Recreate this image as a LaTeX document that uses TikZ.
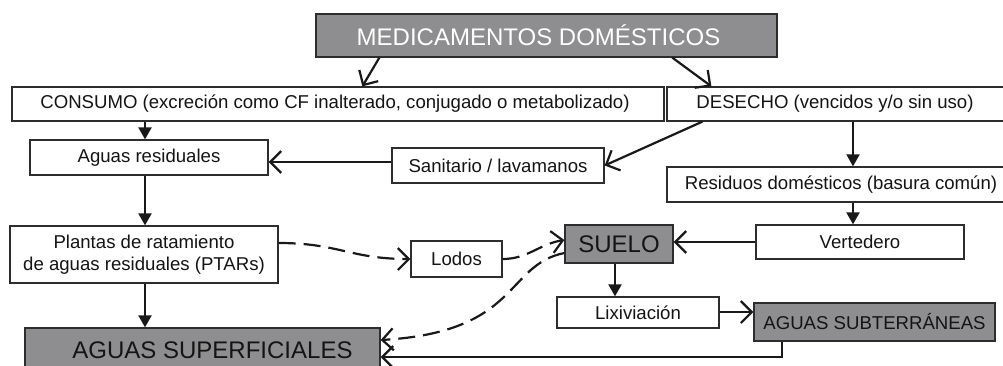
\documentclass[tikz,border=0pt]{standalone}
\usepackage{fontspec}
\setmainfont{Liberation Sans}
\usetikzlibrary{arrows.meta,calc}
\definecolor{boxgray}{RGB}{142,142,144}
\definecolor{edgec}{RGB}{45,45,45}
\definecolor{txt}{RGB}{20,20,20}
\begin{document}
\begin{tikzpicture}[x=1pt,y=-1pt,
  wbox/.style={draw=edgec, line width=1.3pt, fill=white, text=txt, inner sep=0pt,
    font=\fontsize{18.6}{22.5}\selectfont},
  gbox/.style={wbox, fill=boxgray},
  bigtext/.style={font=\fontsize{24}{28}\selectfont},
  oarrow/.style={line width=2.2pt, draw=black!90, -{Straight Barb[length=11pt,width=22pt]}},
  farrow/.style={line width=2.2pt, draw=black!90, -{Triangle[length=12pt,width=13pt]}},
  darrow/.style={oarrow, dash pattern=on 17pt off 8pt}]
\useasboundingbox (0,0) rectangle (1003,365);
\fill[white] (0,0) rectangle (1003,365);
\clip (0,0) rectangle (1003,365);

% helper coordinates
\coordinate (x145) at (145,0);
\coordinate (x853) at (853,0);
\coordinate (x615) at (615,0);
\coordinate (x782) at (782,0);
\coordinate (y162) at (0,162);
\coordinate (y243) at (0,243);
\coordinate (y240) at (0,240);
\coordinate (y253) at (0,253);
\coordinate (y312) at (0,312);
\coordinate (y340) at (0,340);
\coordinate (y357) at (0,357);

% nodes
\node[gbox, bigtext, text=white, minimum width=461pt, minimum height=43pt] (med) at (546.5,35.5) {MEDICAMENTOS DOMÉSTICOS\hspace*{16pt}};
\node[wbox, minimum width=652pt, minimum height=34pt] (cons) at (338,104) {CONSUMO (excreción como CF inalterado, conjugado o metabolizado)\hspace*{6pt}};
\node[wbox, minimum width=338pt, minimum height=34pt] (des) at (836,104) {DESECHO (vencidos y/o sin uso)\hspace*{2pt}};
\node[wbox, minimum width=238pt, minimum height=35pt] (ares) at (149,157.5) {Aguas residuales};
\node[wbox, minimum width=212pt, minimum height=35pt] (san) at (498,165.5) {Sanitario / lavamanos};
\node[wbox, minimum width=338pt, minimum height=35pt] (res) at (836,184.5) {\hspace*{10pt}Residuos domésticos (basura común)};
\node[wbox, minimum width=208pt, minimum height=34pt] (vert) at (860,242) {Vertedero};
\node[gbox, bigtext, minimum width=108pt, minimum height=38pt] (suelo) at (619,244) {SUELO};
\node[wbox, minimum width=268pt, minimum height=57pt, align=center] (plan) at (144,254.5) {Plantas de ratamiento\\de aguas residuales (PTARs)};
\node[wbox, minimum width=91pt, minimum height=36pt] (lodos) at (456.5,259) {Lodos};
\node[wbox, minimum width=162pt, minimum height=31pt] (lix) at (638,312.5) {Lixiviación};
\node[gbox, minimum width=241pt, minimum height=38pt] (sub) at (874.5,322) {AGUAS SUBTERRÁNEAS};
\node[gbox, bigtext, minimum width=355pt, minimum height=44pt] (sup) at (202.5,350) {\hspace*{20pt}AGUAS SUPERFICIALES};

% connectors
\draw[oarrow] ($(med.south west)+(64,0)$) -- ($(cons.north west)+(351,0)$);
\draw[oarrow] ($(med.south west)+(357,0)$) -- ($(des.north west)+(45,0)$);
\draw[farrow] (cons.south -| x145) -- (ares.north -| x145);
\draw[oarrow] (san.west |- y162) -- (ares.east |- y162);
\draw[oarrow] ($(des.south west)+(36,0)$) -- (san.east);
\draw[farrow] (des.south -| x853) -- (res.north -| x853);
\draw[farrow] (res.south -| x853) -- (vert.north -| x853);
\draw[oarrow] (vert.west) -- (suelo.east |- vert.west);
\draw[farrow] (ares.south -| x145) -- (plan.north -| x145);
\draw[farrow] (plan.south -| x145) -- (sup.north -| x145);
\draw[darrow] (plan.east |- y243) .. controls +(60,0) and +(-60,0) .. (lodos.west);
\draw[darrow] (lodos.east) .. controls +(25,0) and +(-25,4) .. (suelo.west |- y240);
\draw[darrow] (suelo.west |- y253) .. controls (505,265) and (520,332) .. (sup.east |- y340);
\draw[farrow] (suelo.south -| x615) -- (lix.north -| x615);
\draw[oarrow] (lix.east |- y312) -- (sub.west |- y312);
\draw[oarrow] (sub.south -| x782) |- (sup.east |- y357);
\end{tikzpicture}
\end{document}
